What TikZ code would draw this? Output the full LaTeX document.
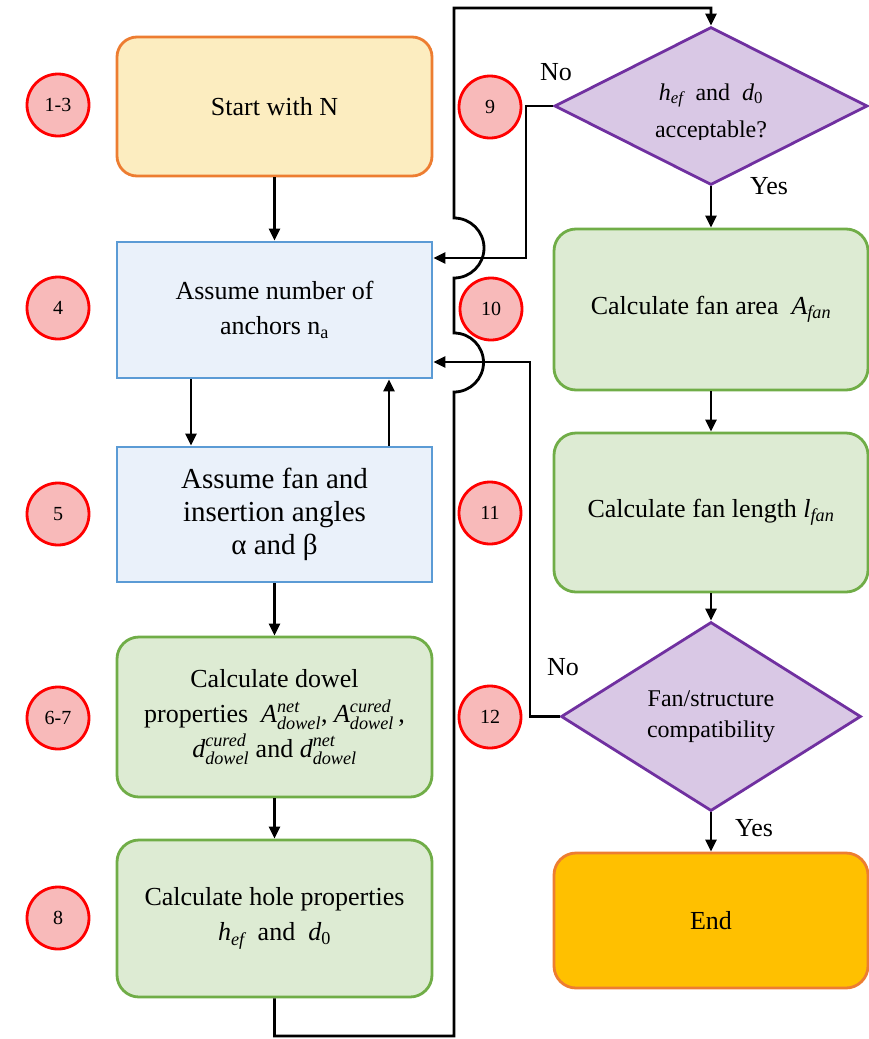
\documentclass[tikz,border=0pt]{standalone}
\usepackage{amsmath}
\usepackage{fontspec}
\setmainfont{Liberation Serif}
\usetikzlibrary{shapes.geometric,arrows.meta}
\definecolor{startfill}{HTML}{FCEDC0}
\definecolor{orangeline}{HTML}{ED7D31}
\definecolor{bluefill}{HTML}{EAF1FA}
\definecolor{blueline}{HTML}{5B9BD5}
\definecolor{greenfill}{HTML}{DDEBD3}
\definecolor{greenline}{HTML}{70AD47}
\definecolor{purplefill}{HTML}{D9C8E5}
\definecolor{purpleline}{HTML}{7030A0}
\definecolor{endfill}{HTML}{FFC000}
\definecolor{numfill}{HTML}{F8BABA}
\definecolor{numline}{HTML}{FF0000}
\newcommand{\dvar}[3]{\textit{#1}^{\textit{#2}}_{\textit{#3}}}
\newcommand{\svar}[2]{\textit{#1}_{\textit{#2}}}
\begin{document}
\begin{tikzpicture}[x=1pt,y=-1pt,
  txt/.style={font=\fontsize{26}{35}\selectfont},
  boxbase/.style={draw, line width=2.8pt, minimum width=315pt, inner sep=0pt, align=center, txt},
  startbox/.style={boxbase, rounded corners=20pt, fill=startfill, draw=orangeline},
  bluebox/.style={boxbase, fill=bluefill, draw=blueline},
  greenbox/.style={boxbase, rounded corners=22pt, fill=greenfill, draw=greenline},
  endbox/.style={boxbase, rounded corners=22pt, fill=endfill, draw=orangeline},
  decision/.style={diamond, draw=purpleline, fill=purplefill, line width=2.8pt, inner sep=0pt, align=center, font=\fontsize{24}{31}\selectfont},
  num/.style={circle, draw=numline, fill=numfill, line width=2.8pt, minimum size=62pt, inner sep=0pt, font=\fontsize{20}{24}\selectfont},
  arr/.style={line width=2.8pt, -{Triangle[length=12pt,width=11pt]}},
  lbl/.style={txt}
]
\useasboundingbox[fill=white] (0,0) rectangle (869,1039);

% left column boxes
\node[startbox, minimum height=139pt] (start) at (274.5,106.5) {Start with N};
\node[bluebox, minimum height=136pt] (box1) at (274.5,310) {Assume number of\\anchors n\textsubscript{a}};
\node[bluebox, minimum height=135pt, font=\fontsize{29}{33}\selectfont] (box2) at (274.5,514.5) {Assume fan and\\insertion angles\\α and β};
\node[greenbox, minimum height=160pt] (box3) at (274.5,717) {Calculate dowel\\properties~~$\dvar{A}{net}{dowel}$,~$\dvar{A}{cured}{dowel}$\,,\\$\dvar{d}{cured}{dowel}$ and $\dvar{d}{net}{dowel}$};
\node[greenbox, minimum height=157pt] (box4) at (274.5,918.5) {Calculate hole properties\\$\svar{h}{ef}$~ and ~$\textit{d}_{\textup{0}}$};

% right column
\node[decision, minimum width=313pt, minimum height=158pt, aspect=1.98] (d1) at (711,106) {};
\node[font=\fontsize{24}{31}\selectfont, anchor=base] (d1a) at (711,100) {$\svar{h}{ef}$~ and ~$\textit{d}_{\textup{0}}$};
\begin{scope}
  \clip (560,110) rectangle (860,139.5);
  \node[font=\fontsize{24}{31}\selectfont, anchor=base] (d1b) at (711,137) {acceptable?};
\end{scope}
\node[greenbox, minimum width=314pt, minimum height=161pt] (box5) at (711,309.5) {Calculate fan area~ $\svar{A}{fan}$};
\node[greenbox, minimum width=314pt, minimum height=159pt] (box6) at (711,512.5) {Calculate fan length $\svar{l}{fan}$};
\node[decision, minimum width=300pt, minimum height=189pt, aspect=1.59] (d2) at (711,716.5) {Fan/structure\\compatibility};
\node[endbox, minimum width=314pt, minimum height=135pt] (end) at (711,920.5) {End};

% step numbers
\node[num] (c13) at (58,105) {1-3};
\node[num] (c4) at (58,308) {4};
\node[num] (c5) at (58,514) {5};
\node[num] (c67) at (58,718) {6-7};
\node[num] (c8) at (58,918) {8};
\node[num] (c9) at (490,107) {9};
\node[num] (c10) at (491,309) {10};
\node[num] (c11) at (490,513) {11};
\node[num] (c12) at (490,717) {12};

% labels
\node[lbl] (no1) at (556,72) {No};
\node[lbl] (yes1) at (769,186) {Yes};
\node[lbl] (no2) at (563,667) {No};
\node[lbl] (yes2) at (754,828) {Yes};

% helper coordinates
\coordinate (xdown) at (191,0);
\coordinate (xup) at (389,0);
\coordinate (lb) at (454,1036);
\coordinate (h1) at (454,392);
\coordinate (h2) at (454,278);
\coordinate (top) at (454,8);
\coordinate (k9) at (526,258);
\coordinate (k12) at (530,362);

% straight connectors
\draw[arr] (start.south) -- (box1.north);
\draw[arr] (box1.south -| xdown) -- (box2.north -| xdown);
\draw[arr] (box2.north -| xup) -- (box1.south -| xup);
\draw[arr] (box2.south) -- (box3.north);
\draw[arr] (box3.south) -- (box4.north);
\draw[arr] (d1.south) -- (box5.north);
\draw[arr] (box5.south) -- (box6.north);
\draw[arr] (box6.south) -- (d2.north);
\draw[arr] (d2.south) -- (end.north);

% long loop with hops
\draw[arr] (box4.south) |- (lb) -- (h1)
  arc[start angle=-90, end angle=90, radius=29.5pt] -- (h2)
  arc[start angle=-90, end angle=90, radius=30pt] -- (top) -| (d1.north);

% No loops
\draw[arr] (d1.west) -| (k9) -- (k9 -| box1.east);
\draw[arr] (d2.west) -| (k12) -- (k12 -| box1.east);
\end{tikzpicture}
\end{document}
